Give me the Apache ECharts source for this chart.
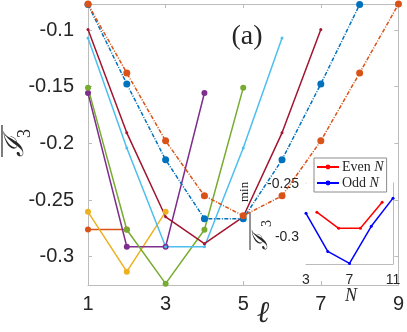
<!DOCTYPE html>
<html>
<head><meta charset="utf-8"></head>
<body style="margin:0;background:#fff">
<div id="container" style="width:407px;height:332px;"></div>
<script type="text/javascript" src="https://cdn.jsdelivr.net/npm/echarts@6/dist/echarts.min.js"></script>
<script type="text/javascript">
// main panel: averaged I3 vs ell, one curve per chain length N=2..9
var ell = [1, 2, 3, 4, 5, 6, 7, 8, 9];
var yTicks = [-0.3, -0.25, -0.2, -0.15, -0.1];
var xTicks = [1, 3, 5, 7, 9];
var curveN2 = [-0.276, -0.276];
var curveN3 = [-0.2604, -0.3132, -0.2604];
var curveN4 = [-0.1555, -0.2912, -0.2912, -0.1555];
var curveN5 = [-0.151, -0.2762, -0.3238, -0.2762, -0.151];
var curveN6 = [-0.107, -0.204, -0.2912, -0.2912, -0.204, -0.107];
var curveN7 = [-0.0995, -0.1907, -0.2648, -0.2885, -0.2648, -0.1907, -0.0995];
var curveN8 = [-0.0775, -0.1476, -0.2145, -0.2665, -0.2665, -0.2145, -0.1476, -0.0775];
var curveN9 = [-0.0771, -0.1379, -0.1978, -0.2463, -0.2639, -0.2463, -0.1978, -0.1379, -0.0771];

// inset: minimum vs N
var evenN = [4, 6, 8, 10];
var evenMin = [-0.2764, -0.2915, -0.2915, -0.267];
var oddN = [3, 5, 7, 9, 11];
var oddMin = [-0.2774, -0.3132, -0.3245, -0.2896, -0.2632];
var insetXTicks = [3, 7, 11];
var insetYTicks = [-0.3, -0.25];

var grey = '#bcbcbc', ink = '#262626';
var dashDot = [4, 1.5, 1, 1.5];

function pairs(xs, ys){
    var out = [];
    for (var i = 0; i < ys.length; i++) out.push([xs[i], ys[i]]);
    return out;
}

function mainLine(name, vals, color, dashed, size){
    return {
        name: name, type: 'line', xAxisIndex: 0, yAxisIndex: 0,
        data: pairs(ell, vals), symbol: 'circle', symbolSize: size,
        itemStyle: {color: color},
        lineStyle: {color: color, width: 1.5, type: dashed ? dashDot : 'solid'},
        animation: false
    };
}

function fmt(v){ return String(parseFloat(v.toFixed(3))); }

function boxAxis(gi, pos, min, max, ticks, len, labelOpt){
    return {
        type: 'value', gridIndex: gi, position: pos, min: min, max: max,
        axisLine: {show: true, onZero: false, lineStyle: {color: grey, width: 1}},
        axisTick: {show: true, inside: true, length: len, customValues: ticks, lineStyle: {color: grey}},
        axisLabel: labelOpt ? Object.assign({customValues: ticks, formatter: fmt, color: ink, fontFamily: 'Liberation Sans'}, labelOpt) : {show: false},
        splitLine: {show: false}
    };
}

var dom = document.getElementById("container");
var myChart = echarts.init(dom);

var option = {
    animation: false,
    grid: [
        {left: 88, right: 7, top: 4, bottom: 47, show: false},
        {left: 306, right: 14, top: 183, bottom: 68, show: true, backgroundColor: '#fff', borderWidth: 0, z: 5}
    ],
    xAxis: [
        boxAxis(0, 'bottom', 1, 9, xTicks, 4, {fontSize: 20, margin: 9}),
        boxAxis(0, 'top', 1, 9, xTicks, 4, null),
        boxAxis(1, 'bottom', 3, 11, insetXTicks, 3, {fontSize: 14, margin: 9}),
        boxAxis(1, 'top', 3, 11, insetXTicks, 3, null)
    ],
    yAxis: [
        boxAxis(0, 'left', -0.325, -0.077, yTicks, 4, {fontSize: 20, margin: 14}),
        boxAxis(0, 'right', -0.325, -0.077, yTicks, 4, null),
        boxAxis(1, 'left', -0.325, -0.249, insetYTicks, 3, {fontSize: 14, margin: 7}),
        boxAxis(1, 'right', -0.325, -0.249, insetYTicks, 3, null)
    ],
    legend: {
        data: ['Even', 'Odd'], orient: 'vertical', left: 314, top: 158,
        itemWidth: 22, itemHeight: 6, itemGap: 2, padding: [2, 3, 2, 2],
        backgroundColor: '#fff', borderColor: '#8c8c8c', borderWidth: 1, z: 10,
        formatter: function(name){ return '{t|' + name + ' }{n|N}'; },
        textStyle: {
            padding: [0, 0, 0, -2],
            rich: {
                t: {fontFamily: 'Liberation Serif', fontSize: 14, color: ink},
                n: {fontFamily: 'Liberation Serif', fontSize: 14, fontStyle: 'italic', color: ink}
            }
        }
    },
    series: [
        mainLine('N2', curveN2, '#D95319', false, 6),
        mainLine('N3', curveN3, '#EDB120', false, 6),
        mainLine('N4', curveN4, '#7E2F8E', false, 6),
        mainLine('N5', curveN5, '#77AC30', false, 6),
        mainLine('N6', curveN6, '#4DBEEE', false, 3),
        mainLine('N7', curveN7, '#A2142F', false, 3),
        mainLine('N8', curveN8, '#0072BD', true, 7),
        mainLine('N9', curveN9, '#D95319', true, 7),
        {
            name: 'Even', type: 'line', xAxisIndex: 2, yAxisIndex: 2, z: 6,
            data: pairs(evenN, evenMin), symbol: 'circle', symbolSize: 3,
            itemStyle: {color: '#FF0000'}, lineStyle: {color: '#FF0000', width: 1.5}
        },
        {
            name: 'Odd', type: 'line', xAxisIndex: 2, yAxisIndex: 2, z: 6,
            data: pairs(oddN, oddMin), symbol: 'circle', symbolSize: 3,
            itemStyle: {color: '#0000FF'}, lineStyle: {color: '#0000FF', width: 1.5}
        }
    ],
    graphic: [
        {type: 'text', x: 247, y: 37, style: {text: '(a)', font: '28px "Liberation Serif"', fill: ink, align: 'center', verticalAlign: 'middle'}},
        {type: 'text', x: 263, y: 314, style: {text: '\u2113', font: 'italic 30px "Liberation Serif"', fill: ink, align: 'center', verticalAlign: 'middle'}},
        {type: 'text', x: 351, y: 296, style: {text: 'N', font: 'italic 18px "Liberation Serif"', fill: ink, align: 'center', verticalAlign: 'middle'}},
        {
            // rotated y label: overline I_3
            type: 'group', x: 16, y: 157, rotation: Math.PI / 2,
            children: [
                {type: 'text', x: 0, y: 0, style: {text: '\u2110', font: 'italic 27px "DejaVu Serif"', fill: ink, align: 'left', verticalAlign: 'middle'}},
                {type: 'text', x: 19, y: 9, style: {text: '3', font: '18px "Liberation Serif"', fill: ink, align: 'left', verticalAlign: 'middle'}},
                {type: 'line', shape: {x1: 0, y1: -14, x2: 32, y2: -14}, style: {stroke: ink, lineWidth: 1.2}}
            ]
        },
        {
            // inset y label: overline I_3 ^min
            type: 'group', x: 262, y: 250, rotation: Math.PI / 2,
            children: [
                {type: 'text', x: 0, y: 0, style: {text: '\u2110', font: 'italic 21px "DejaVu Serif"', fill: ink, align: 'left', verticalAlign: 'middle'}},
                {type: 'text', x: 23, y: 5, style: {text: '3', font: '14px "Liberation Serif"', fill: ink, align: 'left', verticalAlign: 'middle'}},
                {type: 'text', x: 48, y: -17, style: {text: 'min', font: '13px "Liberation Serif"', fill: ink, align: 'left', verticalAlign: 'middle'}},
                {type: 'line', shape: {x1: 0, y1: -12, x2: 38, y2: -12}, style: {stroke: ink, lineWidth: 1}}
            ]
        }
    ]
};

if (option && typeof option === "object") {
    myChart.setOption(option, true);
}
</script>
</body>
</html>
